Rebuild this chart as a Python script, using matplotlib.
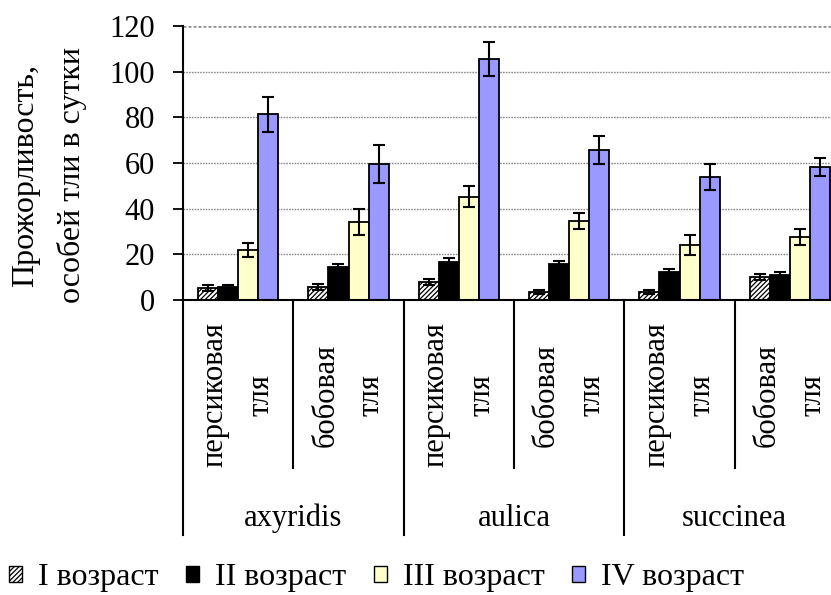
import matplotlib
matplotlib.use("Agg")
import matplotlib.pyplot as plt
from matplotlib.patches import Patch
from matplotlib.lines import Line2D
import numpy as np

plt.rcParams['font.family'] = ['Liberation Serif', 'DejaVu Serif']
plt.rcParams['hatch.linewidth'] = 0.9

# ---- data ----
species = ["axyridis", "aulica", "succinea"]
aphids = ["персиковая\nтля", "бобовая\nтля"]
series = ["I возраст", "II возраст", "III возраст", "IV возраст"]

age1 = [5.1, 5.8, 7.9, 3.6, 3.6, 10.1]
age2 = [5.8, 14.3, 16.5, 15.8, 12.1, 10.8]
age3 = [21.9, 34.0, 45.3, 34.7, 24.1, 27.6]
age4 = [81.3, 59.6, 105.4, 65.8, 53.9, 58.1]

err1 = [1.3, 1.3, 1.4, 0.9, 0.8, 1.3]
err2 = [0.6, 1.3, 2.0, 1.4, 1.5, 1.3]
err3 = [3.0, 5.7, 4.6, 3.5, 4.5, 3.5]
err4 = [7.6, 8.4, 7.4, 6.2, 5.7, 3.9]

yticks = [0, 20, 40, 60, 80, 100, 120]
ylabel = "Прожорливость,\nособей тли в сутки"

values = [age1, age2, age3, age4]
errors = [err1, err2, err3, err4]
facecolors = ["white", "black", "#FFFFCC", "#9999FF"]
hatches = ["///////", None, None, None]

W, H = 831, 595
fig = plt.figure(figsize=(W / 100, H / 100), dpi=100)

# axes in pixel coordinates (extends past right edge like the cropped original)
left_px, right_px, top_px, bot_px = 183, 845, 26, 300
ax = fig.add_axes([left_px / W, 1 - bot_px / H, (right_px - left_px) / W, (bot_px - top_px) / H])

ncat = len(species) * len(aphids)
x = np.arange(ncat)
bw = 1 / 5.5
for i in range(4):
    ax.bar(x + (i - 1.5) * bw, values[i], width=bw, color=facecolors[i],
           edgecolor="black", linewidth=1.3, hatch=hatches[i], zorder=2)
    ax.errorbar(x + (i - 1.5) * bw, values[i], yerr=errors[i], fmt="none",
                ecolor="black", elinewidth=1.5, capsize=4.5, capthick=1.5, zorder=3)

ax.set_xlim(-0.5, ncat - 0.5)
ax.set_ylim(0, 120)
ax.set_yticks(yticks)
ax.set_yticklabels([str(t) for t in yticks], fontsize=22)
ax.tick_params(axis="y", direction="out", length=7, width=1.3, pad=13)
ax.set_xticks([])
for s in ["top", "right"]:
    ax.spines[s].set_visible(False)
ax.spines["left"].set_linewidth(1.5)
ax.spines["bottom"].set_linewidth(1.5)

# gridlines
for t in yticks[1:]:
    ax.axhline(t, color="#8c8c8c", lw=1.8 if t == 120 else 1.0,
               linestyle=(0, (1.2, 0.8)), zorder=1)

trans = ax.get_xaxis_transform()
axh = bot_px - top_px

def yfrac(px):
    return (bot_px - px) / axh

# separators
for b in [0.5, 2.5, 4.5]:
    ax.add_line(Line2D([b, b], [0, yfrac(468)], transform=trans, color="black",
                       lw=1.5, clip_on=False))
for b in [-0.5, 1.5, 3.5, 5.5]:
    ax.add_line(Line2D([b, b], [0, yfrac(535)], transform=trans, color="black",
                       lw=1.5, clip_on=False))

# sub-category labels
for k in range(ncat):
    ax.text(k, yfrac(395), aphids[k % 2], transform=trans, rotation=90,
            ha="center", va="center", multialignment="center",
            fontsize=22, linespacing=1.75, clip_on=False)
# species labels
for j, sp in enumerate(species):
    ax.text(2 * j + 0.5, yfrac(518), sp, transform=trans, ha="center",
            va="center", fontsize=22, clip_on=False)

# y label
fig.text(49 / W, 1 - 175 / H, ylabel, rotation=90, ha="center", va="center",
         multialignment="center", fontsize=23, linespacing=1.7)

# legend
handles = [Patch(facecolor=facecolors[i], edgecolor="black", hatch=hatches[i],
                 linewidth=1.0) for i in range(4)]
fig.legend(handles, series, loc="center left", bbox_to_anchor=(9 / W, 1 - 578 / H),
           ncol=4, frameon=False, fontsize=23, handlelength=0.42, handleheight=0.42,
           handletextpad=0.5, columnspacing=0.85, borderpad=0, borderaxespad=0)

fig.savefig("out.png", dpi=100)
